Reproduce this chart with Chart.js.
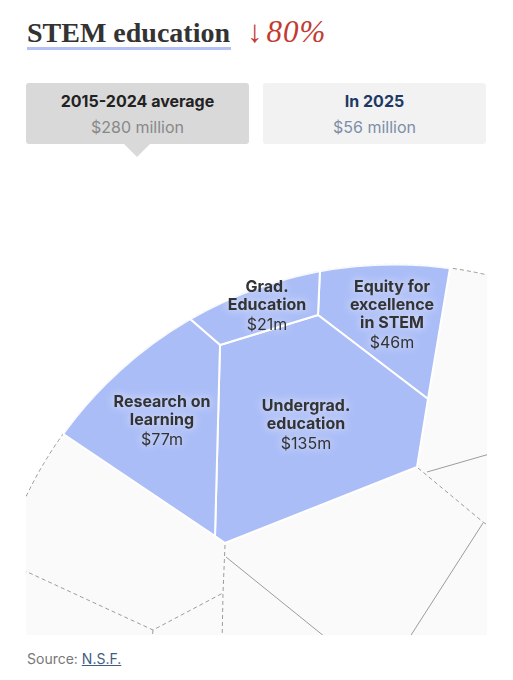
<!DOCTYPE html>
<html>
<head>
<meta charset="utf-8">
<script src="https://cdn.jsdelivr.net/npm/chart.js"></script>
<style>
  html, body { margin: 0; padding: 0; background: #fff; }
  body { width: 513px; height: 680px; position: relative; overflow: hidden; font-family: Inter, "Liberation Sans", sans-serif; }
  .title { position: absolute; left: 27px; top: 17px; line-height: 32px; font-family: "Liberation Serif", serif; font-weight: bold; font-size: 28px; color: #333; white-space: nowrap; }
  .title-line { position: absolute; left: 27px; top: 47px; width: 204px; height: 3px; background: #b3c2f6; }
  .change { position: absolute; left: 247px; top: 15px; line-height: 34px; font-family: "Liberation Serif", serif; font-size: 31px; color: #c23b31; white-space: nowrap; }
  .change i { margin-left: 4px; letter-spacing: 1px; }
  .box { position: absolute; top: 83px; width: 223px; height: 61px; border-radius: 3px; text-align: center; }
  .box .a { position: absolute; left: 0; right: 0; top: 8px; line-height: 20px; font-size: 16px; font-weight: bold; }
  .box .b { position: absolute; left: 0; right: 0; top: 34px; line-height: 20px; font-size: 16px; }
  #avg { left: 26px; background: #d9d9d9; }
  #avg .a { color: #222; }
  #avg .b { color: #888; }
  #avg::after { content: ""; position: absolute; left: 98px; top: 61px; border-left: 13px solid transparent; border-right: 13px solid transparent; border-top: 13px solid #d9d9d9; }
  #now { left: 263px; background: #f2f2f2; }
  #now .a { color: #1d3a64; }
  #now .b { color: #7d8ea8; }
  #wrap { position: absolute; left: 26px; top: 164px; width: 461px; height: 471px; }
  .source { position: absolute; left: 27px; top: 650px; font-size: 14px; line-height: 18px; color: #777; }
  .source a { color: #3f5e84; text-decoration: underline; }
</style>
</head>
<body>
<div class="title" id="title"></div>
<div class="title-line"></div>
<div class="change" id="change"></div>
<div class="box" id="avg"><div class="a" id="avgLabel"></div><div class="b" id="avgValue"></div></div>
<div class="box" id="now"><div class="a" id="nowLabel"></div><div class="b" id="nowValue"></div></div>
<div id="wrap"><canvas id="treemap"></canvas></div>
<div class="source">Source: <a>N.S.F.</a></div>
<script>
// budget figures, $ millions
const directorate = "STEM education";
const periods = ["2015-2024 average", "In 2025"];
const totals = [280, 56];

const programs = ["Research on learning", "Grad. Education", "Undergrad. education", "Equity for excellence in STEM"];
const labelLines = [["Research on", "learning"], ["Grad.", "Education"], ["Undergrad.", "education"], ["Equity for", "excellence", "in STEM"]];
const spending = [77, 21, 135, 46];

// voronoi treemap layout (layout units, y grows downward)
const researchCell = [[12, 253], [141, 135], [194, 181], [189, 372]];
const gradCell = [[141, 135], [295, 82], [292, 151], [194, 181]];
const undergradCell = [[194, 181], [292, 151], [402, 235], [391, 303], [199, 379], [189, 372]];
const equityCell = [[295, 82], [429, 74], [402, 235], [292, 151]];
const cells = [researchCell, gradCell, undergradCell, equityCell];

// edges of the other directorates around it
const otherEdgesDashed = [
  [[-16, 400], [127, 466], [197, 429]],
  [[127, 466], [125, 485]],
  [[199, 381], [197, 429], [196, 481]],
  [[392, 304], [457, 358], [469, 366]]
];
const otherEdgesSolid = [
  [[200, 393], [309, 481]],
  [[401, 308], [474, 287]],
  [[457, 359], [378, 482]]
];
const outerCircle = { cx: 368.3, cy: 508.2, r: 408 };
const labelAnchors = [[136, 238], [241, 123], [280, 242], [366, 123]];

// header
document.getElementById("title").textContent = directorate;
const drop = Math.round((1 - totals[1] / totals[0]) * 100);
document.getElementById("change").innerHTML = "↓<i>" + drop + "%</i>";
document.getElementById("avgLabel").textContent = periods[0];
document.getElementById("avgValue").textContent = "$" + totals[0] + " million";
document.getElementById("nowLabel").textContent = periods[1];
document.getElementById("nowValue").textContent = "$" + totals[1] + " million";

const toPts = arr => arr.map(([x, y]) => ({ x, y }));

const datasets = [];
cells.forEach((cell, i) => {
  const pts = toPts(cell);
  datasets.push({
    label: programs[i],
    data: pts.concat([pts[0]]),
    showLine: true,
    fill: "shape",
    backgroundColor: "#abbdf7",
    borderColor: "#ffffff",
    borderWidth: 2,
    borderJoinStyle: "round",
    pointRadius: 0,
    pointHoverRadius: 0,
    order: 1
  });
});
otherEdgesDashed.forEach(edge => {
  datasets.push({
    data: toPts(edge),
    showLine: true,
    fill: false,
    borderColor: "#9c9c9c",
    borderWidth: 1,
    borderDash: [4, 3],
    pointRadius: 0,
    order: 2
  });
});
otherEdgesSolid.forEach(edge => {
  datasets.push({
    data: toPts(edge),
    showLine: true,
    fill: false,
    borderColor: "#9c9c9c",
    borderWidth: 1,
    pointRadius: 0,
    order: 2
  });
});

function circlePath(chart) {
  const { ctx, scales: { x, y } } = chart;
  const cx = x.getPixelForValue(outerCircle.cx);
  const cy = y.getPixelForValue(outerCircle.cy);
  const r = x.getPixelForValue(outerCircle.cx + outerCircle.r) - cx;
  ctx.beginPath();
  ctx.arc(cx, cy, r, 0, Math.PI * 2);
}

const circlePlugin = {
  id: "circle",
  beforeDatasetsDraw(chart) {
    const { ctx, chartArea } = chart;
    ctx.save();
    ctx.beginPath();
    ctx.rect(chartArea.left, chartArea.top, chartArea.width, chartArea.height);
    ctx.clip();
    circlePath(chart);
    ctx.fillStyle = "#fafafa";
    ctx.fill();
    ctx.setLineDash([4, 3]);
    ctx.strokeStyle = "#9c9c9c";
    ctx.lineWidth = 1;
    ctx.stroke();
    ctx.setLineDash([]);
    circlePath(chart);
    ctx.clip();
  },
  afterDatasetsDraw(chart) {
    const { ctx, scales: { x, y } } = chart;
    ctx.restore();

    // white rim where the program cells meet the outer circle
    ctx.save();
    ctx.beginPath();
    cells.forEach(cell => {
      cell.forEach(([vx, vy], k) => {
        const px = x.getPixelForValue(vx), py = y.getPixelForValue(vy);
        if (k === 0) ctx.moveTo(px, py); else ctx.lineTo(px, py);
      });
      ctx.closePath();
    });
    ctx.clip();
    circlePath(chart);
    ctx.strokeStyle = "rgba(255,255,255,0.9)";
    ctx.lineWidth = 2.5;
    ctx.stroke();
    ctx.restore();

    // labels
    ctx.save();
    ctx.textAlign = "center";
    ctx.textBaseline = "middle";
    ctx.fillStyle = "#333";
    ctx.shadowColor = "rgba(255,255,255,0.85)";
    ctx.shadowBlur = 10;
    programs.forEach((p, i) => {
      const px = x.getPixelForValue(labelAnchors[i][0]);
      let py = y.getPixelForValue(labelAnchors[i][1]);
      ctx.font = "bold 16px Inter";
      labelLines[i].forEach(line => {
        ctx.fillText(line, px, py);
        py += 18;
      });
      ctx.font = "16px Inter";
      ctx.fillText("$" + spending[i] + "m", px, py + 2);
    });
    ctx.restore();
  }
};

new Chart(document.getElementById("treemap"), {
  type: "scatter",
  data: { datasets },
  options: {
    responsive: true,
    maintainAspectRatio: false,
    animation: false,
    events: [],
    layout: { padding: 0 },
    plugins: {
      legend: { display: false },
      tooltip: { enabled: false }
    },
    scales: {
      x: { type: "linear", min: 0, max: 461, display: false },
      y: { type: "linear", min: 0, max: 471, reverse: true, display: false }
    }
  },
  plugins: [circlePlugin]
});
</script>
</body>
</html>
